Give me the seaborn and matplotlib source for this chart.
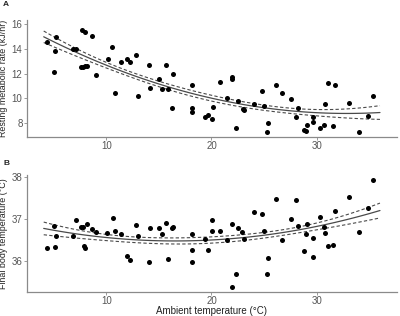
import numpy as np
import pandas as pd
import matplotlib
matplotlib.use("Agg")
import matplotlib.pyplot as plt
import seaborn as sns

# Panel A: resting metabolic rate vs ambient temperature
temp_a = [4.34, 4.98, 5.10, 5.24, 6.82, 7.08, 7.71, 8.00, 7.55, 7.77, 7.96, 8.15,
          8.67, 9.05, 10.12, 10.57, 10.82, 11.36, 12.00, 12.25, 12.86, 13.05, 14.03,
          14.15, 15.05, 15.30, 15.65, 15.90, 16.22, 16.38, 18.12, 18.19, 18.12,
          19.36, 19.68, 20.06, 20.10, 20.82, 21.49, 22.00, 22.00, 22.31, 22.48,
          23.00, 23.14, 24.06, 24.82, 25.00, 25.24, 25.39, 26.10, 26.70, 27.52,
          28.06, 28.25, 28.76, 28.95, 29.08, 29.62, 29.62, 30.29, 30.72, 30.76,
          31.08, 31.52, 31.71, 33.08, 34.00, 34.89, 35.33]
rmr = [14.55, 12.11, 13.83, 14.95, 13.99, 14.01, 15.52, 15.36, 12.51, 12.56, 12.62, 12.64,
       15.03, 11.92, 13.16, 14.15, 10.44, 12.92, 13.16, 12.97, 13.50, 10.20, 12.70,
       10.87, 11.55, 10.77, 12.72, 10.77, 9.24, 11.97, 11.10, 9.24, 8.89,
       8.49, 8.62, 8.35, 9.26, 11.33, 9.99, 11.76, 11.55, 7.57, 9.82,
       9.16, 9.02, 9.53, 10.63, 9.40, 7.30, 8.00, 11.09, 10.42, 9.94,
       8.49, 9.21, 7.44, 7.36, 7.87, 8.49, 8.06, 7.57, 7.87, 9.53,
       11.25, 7.79, 11.06, 9.66, 7.30, 8.54, 10.15]

# Panel B: final body temperature vs ambient temperature
temp_b = [4.34, 4.98, 5.10, 5.24, 6.82, 7.08, 7.55, 7.77, 7.90, 8.00, 8.15, 8.63,
          9.05, 10.10, 10.60, 10.82, 11.39, 12.00, 12.25, 12.86, 13.05, 14.03, 14.15,
          15.05, 15.30, 15.65, 15.90, 16.22, 16.38, 18.12, 18.12, 18.12,
          19.36, 19.68, 20.06, 20.06, 20.82, 21.49, 22.00, 22.00, 22.31, 22.48,
          22.95, 23.10, 24.06, 24.82, 25.00, 25.24, 25.39, 26.10, 26.70, 27.52,
          28.06, 28.25, 28.76, 28.95, 29.08, 29.62, 29.62, 30.29, 30.72, 30.76,
          31.08, 31.52, 31.71, 33.08, 34.00, 34.89, 35.33]
tb = [36.31, 36.83, 36.34, 36.59, 36.59, 36.98, 36.81, 36.81, 36.35, 36.31, 36.89, 36.77,
      36.69, 36.66, 37.02, 36.71, 36.64, 36.11, 36.01, 36.85, 36.59, 35.96, 36.79,
      36.79, 36.64, 36.90, 36.04, 36.78, 36.80, 36.65, 36.27, 35.96,
      36.53, 36.26, 36.71, 36.98, 36.71, 36.51, 36.88, 35.38, 35.68, 36.78,
      36.70, 36.52, 37.17, 37.13, 36.72, 35.68, 36.07, 37.49, 36.51, 37.01,
      37.45, 36.84, 36.24, 36.65, 36.89, 36.55, 36.10, 37.04, 36.81, 36.67,
      36.35, 36.37, 37.20, 37.53, 36.69, 37.26, 37.93]


def quad_fit(x, y, k=1.0):
    # quadratic least squares, band = fit +/- k standard errors
    x = np.asarray(x)
    y = np.asarray(y)
    X = np.column_stack([np.ones_like(x), x, x ** 2])
    beta, *_ = np.linalg.lstsq(X, y, rcond=None)
    resid = y - X @ beta
    s2 = resid @ resid / (len(y) - 3)
    cov = s2 * np.linalg.inv(X.T @ X)
    grid = np.linspace(x.min() - 0.3, x.max() + 0.7, 100)
    G = np.column_stack([np.ones_like(grid), grid, grid ** 2])
    fit = G @ beta
    se = np.sqrt(np.einsum("ij,jk,ik->i", G, cov, G))
    return pd.DataFrame({"x": grid, "fit": fit, "lo": fit - k * se, "hi": fit + k * se})


sns.set_theme(style="white")
plt.rcParams["font.family"] = ["Liberation Sans", "DejaVu Sans"]

fig = plt.figure(figsize=(4.0, 3.16), dpi=100)
ax_a = fig.add_axes([0.0675, 0.5665, 0.925, 0.37])
ax_b = fig.add_axes([0.0675, 0.0759, 0.925, 0.3703])

panels = [
    (ax_a, temp_a, rmr, "Resting metabolic rate (kJ/hr)", (6.87, 16.33), [8, 10, 12, 14, 16]),
    (ax_b, temp_b, tb, "Final body temperature (\u00b0C)", (35.25, 38.06), [36, 37, 38]),
]

for ax, xs, ys, ylab, ylim, yticks in panels:
    df = pd.DataFrame({"x": xs, "y": ys})
    band = quad_fit(xs, ys)
    sns.scatterplot(data=df, x="x", y="y", ax=ax, color="black", s=13,
                    edgecolor="black", linewidth=0, zorder=3)
    sns.lineplot(data=band, x="x", y="fit", ax=ax, color="#4a4a4a", lw=0.9)
    sns.lineplot(data=band, x="x", y="lo", ax=ax, color="#4a4a4a", lw=0.8, linestyle=(0, (3, 2)))
    sns.lineplot(data=band, x="x", y="hi", ax=ax, color="#4a4a4a", lw=0.8, linestyle=(0, (3, 2)))
    ax.set_xlim(2.45, 37.65)
    ax.set_ylim(*ylim)
    ax.set_yticks(yticks)
    ax.set_xticks([10, 20, 30])
    ax.set_ylabel(ylab, fontsize=6.4, color="#222222", labelpad=2.5)
    ax.set_xlabel("")
    for side in ["top", "right"]:
        ax.spines[side].set_visible(False)
    for side in ["left", "bottom"]:
        ax.spines[side].set_color("#8a8a8a")
        ax.spines[side].set_linewidth(0.9)
    ax.tick_params(axis="both", labelsize=7, colors="#8a8a8a", labelcolor="#555555",
                   length=2, width=0.6, pad=1.2, left=True, bottom=True)
    ax.grid(False)

ax_b.set_xlabel("Ambient temperature (\u00b0C)", fontsize=7, color="#222222", labelpad=0)
fig.text(0.006, 0.987, "A", fontsize=6, fontweight="bold", va="center", ha="left")
fig.text(0.010, 0.484, "B", fontsize=6, fontweight="bold", va="center", ha="left")

fig.savefig("out.png", dpi=100)
